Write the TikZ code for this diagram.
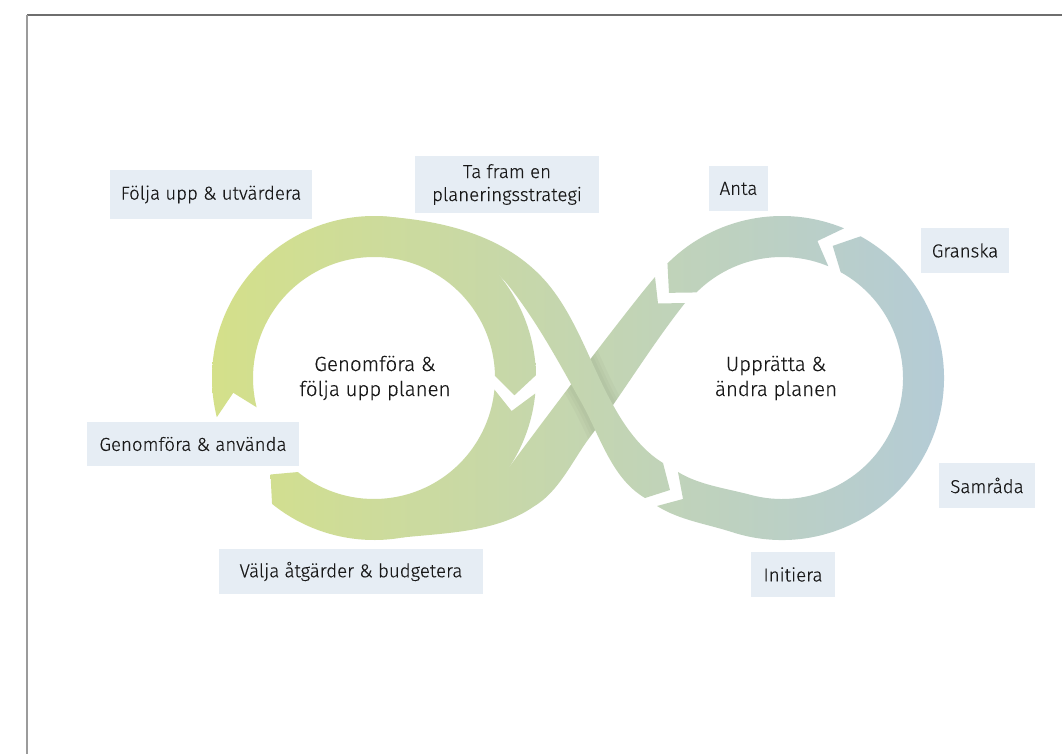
\documentclass[tikz,border=0pt]{standalone}
\usepackage{fontspec}
\setmainfont{Fira Sans}[UprightFont={* Light}, UprightFeatures={FakeBold=0.35}]
\definecolor{gL}{RGB}{212,224,138}
\definecolor{gR}{RGB}{180,203,214}
\definecolor{boxc}{RGB}{230,237,244}
\definecolor{txt}{RGB}{25,25,25}
\definecolor{frameT}{RGB}{110,110,110}
\definecolor{frameL}{RGB}{155,155,155}
\newcommand\ringseg[5]{([shift={#1}]#2:162) arc[start angle=#2, end angle=#3, radius=162] -- ([shift={#1}]#5:141.5) -- ([shift={#1}]#3:121) arc[start angle=#3, end angle=#2, radius=121] -- ([shift={#1}]#4:141.5) -- cycle}
\def\pLA{\ringseg{(374,378)}{166}{359}{174}{367}}
\def\pLB{\ringseg{(374,378)}{365.5}{489}{373.5}{497}}
\def\pRD{\ringseg{(782,378)}{-67.5}{-135}{-75.5}{-143}}
\def\pRC{(657,506) .. controls (680,520.3) and (706.2,523.8) .. ([shift={(782,378)}]108:162) arc[start angle=108, end angle=-61, radius=162] -- ([shift={(782,378)}]-69:141.5) -- ([shift={(782,378)}]-61:121) arc[start angle=-61, end angle=105, radius=121] .. controls (726.5,488.4) and (699,485) .. (678,472) -- (683,499) -- cycle}
\def\pBtwo{(655,277) .. controls (630,306) and (540,425) .. (513,462) .. controls (495,487) and (450,510) .. (410,520) -- (402,537.5) .. controls (446,533) and (497,532) .. (533,507) .. controls (559,492) and (572,461) .. (590,437) .. controls (623,393) and (651,346) .. (685,303) -- (658,303.5) -- cycle}
\def\pBone{(374,216) .. controls (439,219) and (506,234) .. (548,284) .. controls (577,319) and (591,366) .. (613,405) .. controls (625,427) and (641.5,450) .. (663,463) -- (670,490) -- (645,498) .. controls (611,478) and (600,435) .. (580,400) .. controls (558,361) and (536,320) .. (508,285) .. controls (480,250) and (419,238) .. (374,238) -- cycle}
\newcommand\gfill[1]{\begin{scope}\clip #1; \shade[left color=gL,right color=gR] (212,150) rectangle (946,560);\end{scope}}
\tikzset{
  lbl/.style={fill=boxc, text=txt, inner sep=0pt, align=center, font=\fontsize{18.7}{23}\selectfont},
  ctr/.style={text=txt, inner sep=0pt, align=center, font=\fontsize{20.5}{25}\selectfont}
}
\begin{document}
\begin{tikzpicture}[x=1pt,y=-1pt]
\useasboundingbox (0,0) rectangle (1062,754);
\fill[white] (0,0) rectangle (1062,754);
\draw[frameT, line width=1.8pt] (27,15) -- (1062,15);
\draw[frameL, line width=1.8pt] (27,15) -- (27,754);
% bands
\gfill{\pLA}
\gfill{\pLB}
\gfill{\pRC}
\gfill{\pRD}
\gfill{\pBtwo}
\begin{scope}
  \clip \pBtwo;
  \draw[black, opacity=0.025, line width=20pt] \pBone;
  \draw[black, opacity=0.025, line width=13pt] \pBone;
  \draw[black, opacity=0.025, line width=7pt] \pBone;
\end{scope}
\gfill{\pBone}
% centre texts
\node[ctr] (cl) at (375,378) {Genomföra \&\\följa upp planen};
\node[ctr] (cr) at (776,378) {Upprätta \&\\ändra planen};
% labels
\node[lbl, minimum width=202pt, minimum height=49pt] (folja) at (211,194.5) {Följa upp \& utvärdera};
\node[lbl, minimum width=184pt, minimum height=57pt] (tafram) at (507,184.5) {Ta fram en\\planeringsstrategi};
\node[lbl, minimum width=59pt, minimum height=45pt] (anta) at (738.5,188.5) {Anta};
\node[lbl, minimum width=88pt, minimum height=45pt] (granska) at (965,250.5) {Granska};
\node[lbl, minimum width=96pt, minimum height=45pt] (samrada) at (987,485.5) {Samråda};
\node[lbl, minimum width=84pt, minimum height=45pt] (initiera) at (793,574.5) {Initiera};
\node[lbl, minimum width=264pt, minimum height=45pt] (valja) at (351,571.5) {Välja åtgärder \& budgetera};
\node[lbl, minimum width=212pt, minimum height=44pt] (genom) at (193,444) {Genomföra \& använda};
\end{tikzpicture}
\end{document}
